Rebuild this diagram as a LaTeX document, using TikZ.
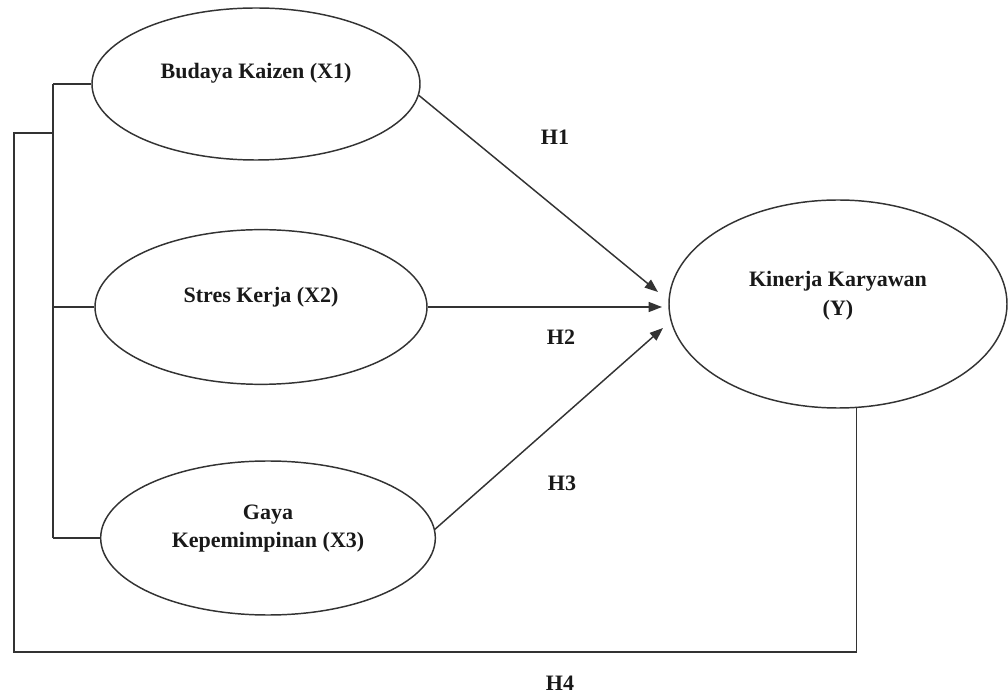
\documentclass[tikz,border=0pt]{standalone}
\usepackage{fontspec}
\setmainfont{Liberation Serif}
\usetikzlibrary{shapes.geometric,arrows.meta,positioning}

\begin{document}
\begin{tikzpicture}[
  x=0.75pt, y=-0.75pt,
  construct/.style={draw=black!80, line width=1.1pt, ellipse, inner sep=0pt},
  caption/.style={font=\bfseries\fontsize{16.5}{21.5}\selectfont, align=center, text=black!90},
  link/.style={draw=black!80, line width=1.1pt},
  arrow/.style={link, -{Triangle[length=10pt, width=7.5pt]}}
]
\useasboundingbox (0,0) rectangle (1008,695);

\node[construct, minimum width=246pt, minimum height=114pt,
  label={[caption, yshift=8pt]center:{Budaya Kaizen (X1)}}] (kaizen) at (256,84) {};
\node[construct, minimum width=249pt, minimum height=116pt,
  label={[caption, yshift=7pt]center:{Stres Kerja (X2)}}] (stres) at (261,307) {};
\node[construct, minimum width=251pt, minimum height=115.5pt,
  label={[caption, yshift=7pt]center:{Gaya\\Kepemimpinan (X3)}}] (gaya) at (268,538) {};
\node[construct, minimum width=253.5pt, minimum height=156pt,
  label={[caption, yshift=6pt]center:{Kinerja Karyawan\\(Y)}}] (kinerja) at (838,304) {};

\node[caption] (h1) at (555,137) {H1};
\node[caption] (h2) at (561,337) {H2};
\node[caption] (h3) at (562,483) {H3};
\node[caption] (h4) at (560,683) {H4};

\coordinate (spine) at (53,0);
\coordinate (join) at (53,133);
\coordinate (loop) at (14,652);
\coordinate (in1) at (658,292);
\coordinate (in2) at (662,307);
\coordinate (in3) at (663,328);

\draw[link] (kaizen.west) -- (kaizen.west -| spine);
\draw[link] (stres.west) -- (stres.west -| spine);
\draw[link] (gaya.west) -- (gaya.west -| spine);
\draw[link] (kaizen.west -| spine) -- (gaya.west -| spine);
\draw[link] (kinerja.-80) |- (loop) |- (join);

\draw[arrow] (kaizen.-4) -- (in1);
\draw[arrow] (stres.east) -- (in2);
\draw[arrow] (gaya.3) -- (in3);
\end{tikzpicture}
\end{document}
